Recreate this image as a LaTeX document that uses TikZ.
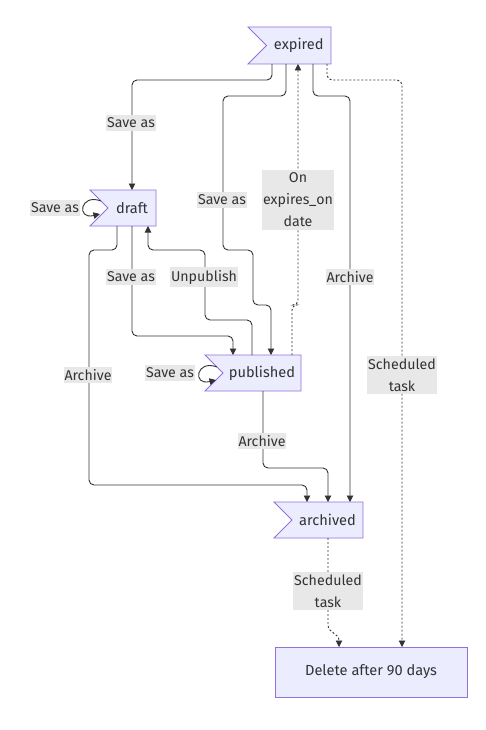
\documentclass[tikz,border=0pt]{standalone}
\usepackage{fontspec}
\setmainfont{Fira Sans}
\usetikzlibrary{arrows.meta,calc}
\definecolor{nodefill}{HTML}{ECECFF}
\definecolor{nodedraw}{HTML}{9370DB}
\definecolor{edgecol}{HTML}{333333}
\definecolor{lblfill}{HTML}{E8E8E8}
\tikzset{
  flagbox/.style={draw=none,minimum height=36pt,inner sep=0pt},
  flagtext/.style={text=edgecol,font=\fontsize{14.6}{16}\selectfont,inner sep=0pt},
  rectbox/.style={draw=nodedraw,fill=nodefill,line width=0.8pt,text=edgecol,font=\fontsize{14.6}{16}\selectfont,inner sep=0pt},
  lbl/.style={fill=lblfill,text=edgecol,font=\fontsize{14.2}{22}\selectfont,inner xsep=1pt,inner ysep=2.5pt,align=center},
  edge/.style={draw=edgecol,line width=0.9pt,rounded corners=5pt,-{Triangle[length=6.5pt,width=6.5pt]}},
  dedge/.style={edge,dash pattern=on 2pt off 2pt},
}
\newcommand{\flag}[6]{% name, x1, y1, x2, y2, text
  \node[flagbox,minimum width=#4pt-#2pt,minimum height=#5pt-#3pt] (#1) at ({(#2+#4)/2},{(#3+#5)/2}) {};
  \draw[draw=nodedraw,fill=nodefill,line width=0.8pt] (#2,#3) -- (#4,#3) -- (#4,#5) -- (#2,#5) -- ({#2+(#5-#3)/2},{(#3+#5)/2}) -- cycle;
  \node[flagtext] (#1-t) at ({(#2+(#5-#3)/2+#4)/2},{(#3+#5)/2}) {#6};
}
\begin{document}
\begin{tikzpicture}[x=1pt,y=-1pt]
\useasboundingbox[fill=white] (0,0) rectangle (485,730);
% nodes
\flag{expired}{248}{27}{331}{64}{expired}
\flag{draft}{90}{190}{156}{226}{draft}
\flag{published}{205}{355}{301}{391}{published}
\flag{archived}{274}{502}{363}{538}{archived}
\node[rectbox,minimum width=192pt,minimum height=50pt] (delete) at (371,672) {Delete after 90 days};
% helper coordinates
\coordinate (e1) at (272,64);
\coordinate (e2) at (286,64);
\coordinate (e3) at (298,64);
\coordinate (e4) at (313,64);
\coordinate (e5) at (327,64);
\coordinate (d1) at (117,226);
\coordinate (d2) at (132,226);
\coordinate (d3) at (148,226);
\coordinate (dt) at (132,190);
\coordinate (pt1) at (233,355);
\coordinate (pt2) at (252,355);
\coordinate (pt3) at (271,355);
\coordinate (pt4) at (292,355);
\coordinate (pb) at (263,391);
\coordinate (at1) at (307,502);
\coordinate (at2) at (328,502);
\coordinate (at3) at (350,502);
\coordinate (ab) at (328,538);
\coordinate (x1) at (339,647);
\coordinate (x2) at (402,647);
% edges
\draw[edge] (e1) |- (132,80) -- (dt);
\draw[edge] (e2) |- (223,96) |- (253,250) |- (271,305) -- (pt3);
\draw[dedge] (pt4) |- (298,305) -- (e3);
\draw[edge] (e4) |- (350,96) -- (at3);
\draw[dedge] (e5) |- (402,80) -- (x2);
\draw[edge] (d1) |- (89,250) |- (307,485) -- (at1);
\draw[edge] (d2) |- (233,336) -- (pt1);
\draw[edge] (pt2) |- (205,320) |- (148,250) -- (d3);
\draw[edge] (pb) |- (328,468) -- (at2);
\draw[dedge,rounded corners=0pt] (ab) -- (328,625) .. controls (328,633) and (339,633) .. (x1);
% self loops
\draw[edge,rounded corners=0pt] (101,201) .. controls (80,193) and (76,220) .. (100,214);
\draw[edge,rounded corners=0pt] (217,367) .. controls (196,359) and (192,386) .. (216,380);
% labels
\node[lbl] (l1) at (131,123) {Save as};
\node[lbl] (l2) at (222,200) {Save as};
\node[lbl] (l3) at (298,200) {On\\expires\_on\\date};
\node[lbl] (l4) at (350,277) {Archive};
\node[lbl] (l5) at (402,375) {Scheduled\\task};
\node[lbl] (l6) at (55,208) {Save as};
\node[lbl] (l7) at (88,375) {Archive};
\node[lbl] (l8) at (131,277) {Save as};
\node[lbl] (l9) at (204,277) {Unpublish};
\node[lbl] (l10) at (170,373) {Save as};
\node[lbl] (l11) at (262,441) {Archive};
\node[lbl] (l12) at (328,591) {Scheduled\\task};
\end{tikzpicture}
\end{document}
